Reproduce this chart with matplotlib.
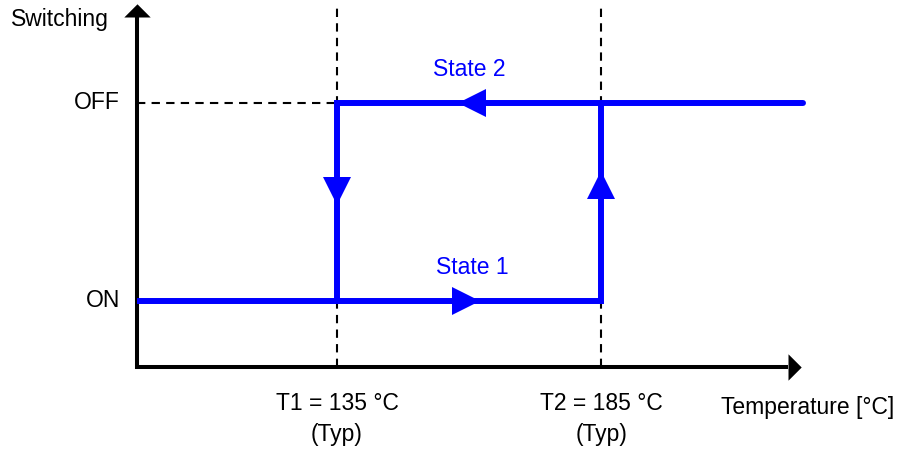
import matplotlib.pyplot as plt

plt.rcParams['font.family'] = ['Liberation Sans', 'DejaVu Sans']

# switching thresholds (typ), degC
t1 = 135
t2 = 185
t_labels = ['T1 = 135 °C\n(Typ)', 'T2 = 185 °C\n(Typ)']

# switching levels
levels = ['ON', 'OFF']
level_y = [0, 1]

# axis range of the sketch
t_start = 97.1
t_end = 220.4
y_start = -0.333
y_end = 1.434

# hysteresis paths
state1_x = [t_start, t2, t2]
state1_y = [0, 0, 1]
state2_x = [223.3, t1, t1]
state2_y = [1, 1, 0]

# direction arrows along the paths
arrow_x = [159.4, 160.6, t1, t2]
arrow_y = [0, 1, 0.556, 0.586]
arrow_mk = ['>', '<', 'v', '^']

blue = '#0000ff'

fig = plt.figure(figsize=(9.01, 4.51), dpi=100)
ax = fig.add_axes([0, 0, 1, 1])
ax.set_xlim(71.17, 241.8)
ax.set_ylim(-0.758, 1.52)
ax.axis('off')

# dashed guides
for t in (t1, t2):
    ax.plot([t, t], [y_start, 1.48], color='black', lw=1.5, ls=(0, (4, 3)), zorder=1)
ax.plot([t_start, t1], [1, 1], color='black', lw=1.5, ls=(0, (4, 3)), zorder=1)

# axes: line + flat arrow head (head base sits at the marker point)
ax.plot([t_start, t_start, t_end], [y_end, y_start, y_start], color='black', lw=2.9,
        solid_joinstyle='miter', solid_capstyle='butt', zorder=3)
head_right = [(0, 1), (1, 0), (0, -1), (0, 1)]
head_up = [(-1, 0), (0, 1), (1, 0), (-1, 0)]
ax.plot(t_end, y_start, marker=head_right, ms=19, color='black', mew=0, zorder=3)
ax.plot(t_start, y_end, marker=head_up, ms=19, color='black', mew=0, zorder=3)

# hysteresis loop
ax.plot(state1_x, state1_y, color=blue, lw=4.3, solid_joinstyle='miter',
        solid_capstyle='butt', zorder=4)
ax.plot(state2_x, state2_y, color=blue, lw=4.3, solid_joinstyle='miter',
        solid_capstyle='round', zorder=4)
for x, y, m in zip(arrow_x, arrow_y, arrow_mk):
    ax.plot(x, y, marker=m, ms=20, color=blue, mew=0, zorder=5)

fs = 16.5
ax.text(160.0, 1.167, 'State 2', color=blue, fontsize=fs, ha='center', va='center')
ax.text(160.6, 0.167, 'State 1', color=blue, fontsize=fs, ha='center', va='center')

ax.text(82.5, 1.419, 'Switching', fontsize=fs, ha='center', va='center')
for lab, y in zip(levels, level_y):
    ax.text(93.9, y, lab, fontsize=fs, ha='right', va='center')

for t, lab in zip((t1, t2), t_labels):
    ax.text(t, -0.598, lab, fontsize=fs, ha='center', va='center', linespacing=1.45)
ax.text(240.5, -0.54, 'Temperature [°C]', fontsize=fs, ha='right', va='center')

fig.savefig('out.png', dpi=100)
